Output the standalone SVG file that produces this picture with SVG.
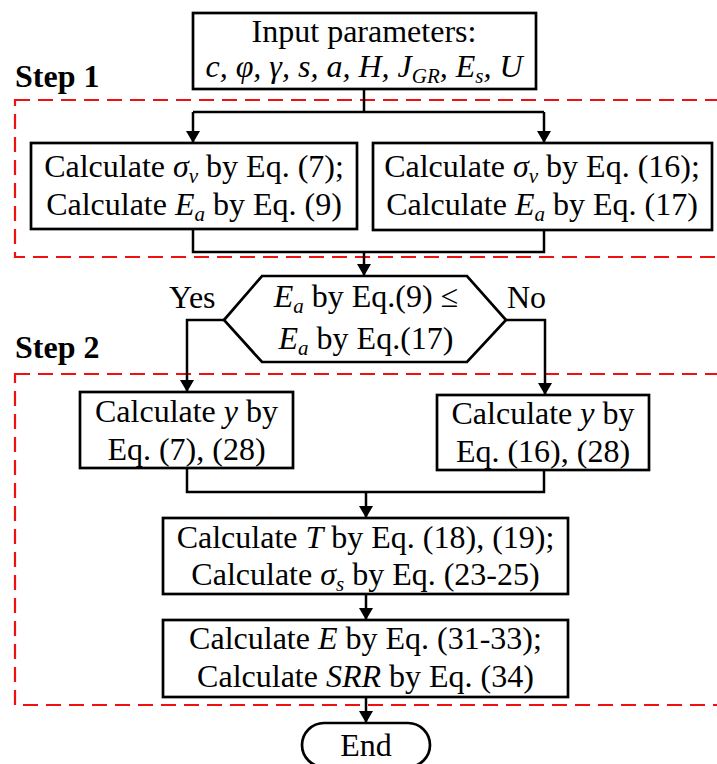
<svg xmlns="http://www.w3.org/2000/svg" width="717" height="764" viewBox="0 0 717 764">
<style>
text{font-family:"Liberation Serif","Times New Roman",serif;font-size:32px;fill:#000}
.c{text-anchor:middle}
.i{font-style:italic}
.s{font-size:21px;font-style:italic}
.step{font-weight:bold;font-size:32px}
.box{fill:#fff;stroke:#000;stroke-width:2.7}
.ln{fill:none;stroke:#000;stroke-width:2.5}
.dash{fill:none;stroke:#f01010;stroke-width:2.2;stroke-dasharray:15 8}
</style>
<defs>
<marker id="ah" markerWidth="12" markerHeight="14" refX="12" refY="7" orient="auto" markerUnits="userSpaceOnUse">
<path d="M0,0 L12,7 L0,14 Z" fill="#000"/>
</marker>
</defs>
<rect class="dash" x="15" y="100" width="720" height="157"/>
<rect class="dash" x="15" y="374" width="720" height="331"/>
<text class="step" x="15" y="87">Step 1</text>
<text class="step" x="15" y="358">Step 2</text>
<g id="connectors">
<path class="ln" d="M364,89 V112 M193,112 H544"/>
<path class="ln" d="M193,112 V143" marker-end="url(#ah)"/>
<path class="ln" d="M544,112 V143" marker-end="url(#ah)"/>
<path class="ln" d="M193,229 V252 H544 V230"/>
<path class="ln" d="M364,252 V276" marker-end="url(#ah)"/>
<path class="ln" d="M224,320 H187 V392" marker-end="url(#ah)"/>
<path class="ln" d="M506,320 H545 V395" marker-end="url(#ah)"/>
<path class="ln" d="M187,468 V492 H544 V470"/>
<path class="ln" d="M366,492 V518" marker-end="url(#ah)"/>
<path class="ln" d="M366,594 V620" marker-end="url(#ah)"/>
<path class="ln" d="M366,697 V723" marker-end="url(#ah)"/>
<text x="169" y="308">Yes</text>
<text x="507" y="308">No</text>
</g>
<g id="input">
<rect class="box" x="193" y="13" width="343" height="76"/>
<text class="c" x="364" y="42">Input parameters:</text>
<text class="c i" x="364" y="77">c, φ, γ, s, a, H, J<tspan class="s" dy="6">GR</tspan><tspan dy="-6">, E</tspan><tspan class="s" dy="6">s</tspan><tspan dy="-6">, U</tspan></text>
</g>
<g id="step1-left">
<rect class="box" x="31" y="143" width="326" height="86"/>
<text class="c" x="194" y="177">Calculate <tspan class="i">σ</tspan><tspan class="s" dy="6">v</tspan><tspan dy="-6"> by Eq. (7);</tspan></text>
<text class="c" x="194" y="215">Calculate <tspan class="i">E</tspan><tspan class="s" dy="6">a</tspan><tspan dy="-6"> by Eq. (9)</tspan></text>
</g>
<g id="step1-right">
<rect class="box" x="373" y="143" width="339" height="87"/>
<text class="c" x="542" y="177">Calculate <tspan class="i">σ</tspan><tspan class="s" dy="6">v</tspan><tspan dy="-6"> by Eq. (16);</tspan></text>
<text class="c" x="542" y="215">Calculate <tspan class="i">E</tspan><tspan class="s" dy="6">a</tspan><tspan dy="-6"> by Eq. (17)</tspan></text>
</g>
<g id="decision">
<polygon class="box" points="224,320 262,276 467,276 506,320 467,362 262,362"/>
<text class="c" x="366" y="307"><tspan class="i">E</tspan><tspan class="s" dy="6">a</tspan><tspan dy="-6"> by Eq.(9) ≤</tspan></text>
<text class="c" x="366" y="349"><tspan class="i">E</tspan><tspan class="s" dy="6">a</tspan><tspan dy="-6"> by Eq.(17)</tspan></text>
</g>
<g id="y-left">
<rect class="box" x="80" y="392" width="213" height="76"/>
<text class="c" x="186.5" y="422">Calculate <tspan class="i">y</tspan> by</text>
<text class="c" x="186.5" y="460">Eq. (7), (28)</text>
</g>
<g id="y-right">
<rect class="box" x="437" y="395" width="212" height="75"/>
<text class="c" x="543" y="424">Calculate <tspan class="i">y</tspan> by</text>
<text class="c" x="543" y="462">Eq. (16), (28)</text>
</g>
<g id="t-box">
<rect class="box" x="163" y="518" width="405" height="76"/>
<text class="c" x="365.5" y="548">Calculate <tspan class="i">T</tspan> by Eq. (18), (19);</text>
<text class="c" x="365.5" y="585">Calculate <tspan class="i">σ</tspan><tspan class="s" dy="6">s</tspan><tspan dy="-6"> by Eq. (23-25)</tspan></text>
</g>
<g id="e-box">
<rect class="box" x="163" y="620" width="405" height="77"/>
<text class="c" x="365.5" y="649">Calculate <tspan class="i">E</tspan> by Eq. (31-33);</text>
<text class="c" x="365.5" y="687">Calculate <tspan class="i">SRR</tspan> by Eq. (34)</text>
</g>
<g id="end">
<rect class="box" x="302" y="723" width="128" height="44" rx="22" ry="22"/>
<text class="c" x="366" y="756">End</text>
</g>
</svg>
